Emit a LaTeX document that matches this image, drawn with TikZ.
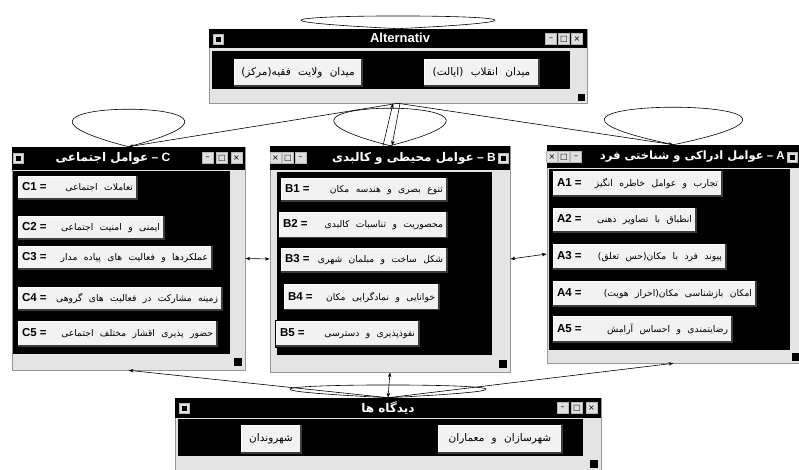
\documentclass[tikz,border=0pt]{standalone}
\usepackage{fontspec}
\setmainfont{Liberation Sans}
\newfontfamily\fa[Script=Arabic, WordSpace=2.2]{DejaVu Sans}
\newfontfamily\fatitle[Script=Arabic, Scale=0.999]{DejaVu Sans}
\newfontfamily\symfont{DejaVu Sans}
\TeXXeTstate=1
\usetikzlibrary{arrows.meta}

\definecolor{winface}{RGB}{228,228,228}
\definecolor{btnface}{RGB}{242,242,242}
\definecolor{btnshade}{RGB}{60,60,60}
\definecolor{frameline}{RGB}{150,150,150}

\newcommand\btnrow[3]{\hbox to #1{{\bfseries\fontsize{11.5}{11.5}\selectfont#2 =}\hfil{\fa#3}}}

\begin{document}
\begin{tikzpicture}[x=1pt, y=-1pt, line width=0.6pt,
  win/.style = {draw=frameline, fill=winface, inner sep=0pt},
  titlebar/.style = {fill=black},
  pane/.style = {fill=black},
  grip/.style = {fill=black},
  wtitle/.style = {text=white, inner sep=0pt, font=\bfseries\fontsize{12}{12}\selectfont},
  btn/.style = {draw=black, fill=btnface, inner xsep=5pt, inner ysep=2pt,
    font=\fontsize{9.2}{10}\selectfont,
    path picture={
      \draw[white, line width=3pt] (path picture bounding box.south west)
        -- (path picture bounding box.north west) -- (path picture bounding box.north east);
      \draw[btnshade, line width=4pt] (path picture bounding box.south west)
        -- (path picture bounding box.south east) -- (path picture bounding box.north east);
    }},
  bigbtn/.style = {btn, font=\fontsize{10.5}{11}\selectfont},
  ctl/.style = {fill=gray!25, draw=gray!55, minimum size=11pt, inner sep=0pt,
    font=\symfont\fontsize{8}{8}\selectfont},
  icon/.style = {fill=gray!25, draw=gray!55, minimum size=10pt, inner sep=0pt,
    path picture={\fill[black] ([shift={(-2.5pt,-2.5pt)}]path picture bounding box.center)
      rectangle ([shift={(2.5pt,2.5pt)}]path picture bounding box.center);}},
  link/.style = {-{Stealth[length=5pt, width=3.5pt]}},
  twoway/.style = {{Stealth[length=5pt, width=3.5pt]}-{Stealth[length=5pt, width=3.5pt]}},
  ]
\useasboundingbox (0,0) rectangle (799,469);

% Alternativ window
\node[win, minimum width=378pt, minimum height=74pt] (alt) at (398,66) {};
\fill[titlebar] (209,29) rectangle (587,48);
\fill[pane] (212,51) rectangle (570,89);
\fill[grip] (578,94) rectangle (585,101);
\node[icon] (altIcon) at (218,39) {};
\node[wtitle, font=\bfseries\fontsize{13}{13}\selectfont] (altTitle) at (400,38) {Alternativ};
\foreach \s [count=\i] in {–,□,×}
  \node[ctl] (altCtl\i) at (538+13*\i,39) {\s};
\node[bigbtn, minimum width=130pt, minimum height=29pt] (alt1) at (298,72.5) {\fa\beginR میدان ولایت فقیه(مرکز)\endR};
\node[bigbtn, minimum width=117pt, minimum height=29pt] (alt2) at (481.5,72.5) {\fa\beginR میدان انقلاب (ایالت)\endR};

% C window
\node[win, minimum width=233pt, minimum height=223pt] (winC) at (128.5,258.5) {};
\fill[titlebar] (12,147) rectangle (245,170);
\fill[pane] (13,171) rectangle (230,354);
\fill[grip] (234,358) rectangle (242,366);
\node[icon] (cIcon) at (18,158) {};
\node[wtitle] (cTitle) at (113,158) {{\fatitle\beginR عوامل اجتماعی\endR} – C};
\foreach \s [count=\i] in {–,□,×}
  \node[ctl] (cCtl\i) at (193+14.5*\i,158) {\s};
\node[btn, minimum height=25pt] (c1) at (77.5,187.5) {\btnrow{111pt}{C1}{\beginR تعاملات اجتماعی\endR}};
\node[btn, minimum height=25pt] (c2) at (91,227.5) {\btnrow{138pt}{C2}{\beginR ایمنی و امنیت اجتماعی\endR}};
\node[btn, minimum height=25pt] (c3) at (115,257.5) {\btnrow{186pt}{C3}{\beginR عملکردها و فعالیت های پیاده مدار\endR}};
\node[btn, minimum height=25pt] (c4) at (120,298.5) {\btnrow{196pt}{C4}{\beginR زمینه مشارکت در فعالیت های گروهی\endR}};
\node[btn, minimum height=27pt] (c5) at (117.5,333.5) {\btnrow{191pt}{C5}{\beginR حضور پذیری اقشار مختلف اجتماعی\endR}};

% B window
\node[win, minimum width=240pt, minimum height=226pt] (winB) at (390,259) {};
\fill[titlebar] (270,146) rectangle (510,170);
\fill[pane] (277,172) rectangle (492,355);
\fill[grip] (499,360) rectangle (507,368);
\node[icon] (bIcon) at (503,158) {};
\node[wtitle, anchor=east] (bTitle) at (496,158) {{\fatitle\beginR عوامل محیطی و کالبدی\endR} – B};
\foreach \s [count=\i] in {×,□,–}
  \node[ctl] (bCtl\i) at (263+12.5*\i,158) {\s};
\node[btn, minimum height=25pt] (b1) at (364,189.5) {\btnrow{158pt}{B1}{\beginR تنوع بصری و هندسه مکان\endR}};
\node[btn, minimum height=27pt] (b2) at (363,225) {\btnrow{160pt}{B2}{\beginR محصوریت و تناسبات کالبدی\endR}};
\node[btn, minimum height=26pt] (b3) at (364,260) {\btnrow{158pt}{B3}{\beginR شکل ساخت و مبلمان شهری\endR}};
\node[btn, minimum height=27pt] (b4) at (361.5,297) {\btnrow{147pt}{B4}{\beginR خوانایی و نمادگرایی مکان\endR}};
\node[btn, minimum height=27pt] (b5) at (347.5,333.5) {\btnrow{135pt}{B5}{\beginR نفوذپذیری و دسترسی\endR}};

% A window
\node[win, minimum width=253pt, minimum height=218pt] (winA) at (673.5,254) {};
\fill[titlebar] (547,145) rectangle (800,168);
\fill[pane] (549,169) rectangle (790,350);
\fill[grip] (792,353) rectangle (799,361);
\node[icon] (aIcon) at (792,157) {};
\node[wtitle, anchor=east, font=\bfseries\fontsize{11.5}{12}\selectfont] (aTitle) at (785,157) {{\fatitle\beginR عوامل ادراکی و شناختی فرد\endR} – A};
\foreach \s [count=\i] in {×,□,–}
  \node[ctl] (aCtl\i) at (540+12*\i,157) {\s};
\node[btn, minimum height=27pt] (a1) at (637.5,183.5) {\btnrow{161pt}{A1}{\beginR تجارب و عوامل خاطره انگیز\endR}};
\node[btn, minimum height=26pt] (a2) at (624.5,220) {\btnrow{135pt}{A2}{\beginR انطباق با تصاویر ذهنی\endR}};
\node[btn, minimum height=27pt] (a3) at (639.5,256.5) {\btnrow{165pt}{A3}{\beginR پیوند فرد با مکان(حس تعلق)\endR}};
\node[btn, minimum height=27pt] (a4) at (654.5,293.5) {\btnrow{195pt}{A4}{\beginR امکان بازشناسی مکان(احراز هویت)\endR}};
\node[btn, minimum height=28pt] (a5) at (642.5,329) {\btnrow{171pt}{A5}{\beginR رضایتمندی و احساس آرامش\endR}};

% viewpoints window
\node[win, minimum width=426pt, minimum height=72pt] (winD) at (388,434) {};
\fill[titlebar] (175,398) rectangle (601,418);
\fill[pane] (178,419) rectangle (583,456);
\fill[grip] (590,460) rectangle (598,468);
\node[icon] (dIcon) at (184,408) {};
\node[wtitle] (dTitle) at (388,408) {\fatitle\beginR دیدگاه ها\endR};
\foreach \s [count=\i] in {–,□,×}
  \node[ctl] (dCtl\i) at (548+14.5*\i,408) {\s};
\node[bigbtn, minimum width=62pt, minimum height=30pt] (d1) at (271,439) {\fa\beginR شهروندان\endR};
\node[bigbtn, minimum width=126pt, minimum height=30pt] (d2) at (500,439) {\fa\beginR شهرسازان و معماران\endR};

% loops
\draw (alt.north) .. controls +(-336,-17) and +(336,-17) .. (alt.north);
\draw (winC.north) .. controls +(-195,-50) and +(195,-50) .. (winC.north);
\draw (winB.north) .. controls +(-195,-50) and +(195,-50) .. (winB.north);
\draw (winA.north) .. controls +(-240,-50) and +(240,-50) .. (winA.north);
\draw (winD.north) .. controls +(-340,-17) and +(340,-17) .. (winD.north);

% links
\draw[link] (alt.south) -- (winC.north);
\draw[link] (alt.south) -- (winA.north);
\draw[link] ([xshift=2pt]alt.south) -- ([xshift=2pt]winB.north);
\draw[link] ([xshift=-7pt]winB.north) -- ([xshift=-5pt]alt.south);
\draw[twoway] (winC.east) -- (winB.west);
\draw[twoway] (winB.east) -- (winA.west);
\draw[twoway] (winB.south) -- (winD.north);
\draw[link] (winD.north) -- (winC.south);
\draw[link] (winD.north) -- (winA.south);
\end{tikzpicture}
\end{document}
